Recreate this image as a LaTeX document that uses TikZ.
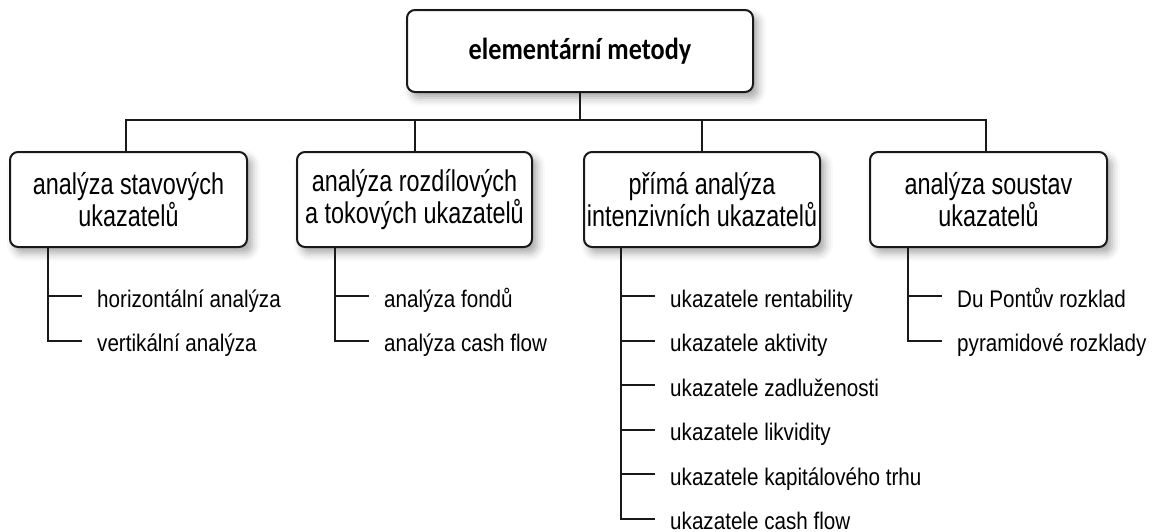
\documentclass[tikz,border=0pt]{standalone}
\usepackage{fontspec}
\usetikzlibrary{shadows.blur}
\newfontfamily\boxfont[FakeStretch=0.78]{Liberation Sans}
\newfontfamily\itemfont[FakeStretch=0.86]{Liberation Sans}
\newfontfamily\topfont[FakeStretch=0.86]{Carlito}
\begin{document}
\begin{tikzpicture}[x=1pt,y=-1pt,
  boxstyle/.style={draw=black!90, line width=2pt, rounded corners=8pt, fill=white,
    blur shadow={shadow xshift=5pt, shadow yshift=-6pt, shadow blur radius=8pt, shadow opacity=35},
    align=center, inner sep=0pt},
  subbox/.style={boxstyle, minimum height=95pt, font=\boxfont\fontsize{30}{31.5}\selectfont},
  itemnode/.style={anchor=west, inner xsep=15pt, inner ysep=0pt, text height=24pt, text depth=2pt,
    font=\itemfont\fontsize{24}{28}\selectfont},
  conn/.style={draw=black!90, line width=2pt}]
\useasboundingbox (0,0) rectangle (1152,531);

\node[boxstyle, minimum width=346pt, minimum height=82pt, font=\topfont\bfseries\fontsize{30.5}{34}\selectfont] (top) at (580,51) {elementární metody};

\node[subbox, minimum width=237pt] (b1) at (128.5,199.5) {analýza stavových\\ukazatelů};
\node[subbox, minimum width=235pt] (b2) at (414.5,199.5) {analýza rozdílových\\a tokových ukazatelů};
\node[subbox, minimum width=236pt] (b3) at (702,199.5) {přímá analýza\\intenzivních ukazatelů};
\node[subbox, minimum width=237pt] (b4) at (988.5,199.5) {analýza soustav\\ukazatelů};

\draw[conn] (top.south) -- ++(0,27) -| ([xshift=-2.5pt]b1.north);
\draw[conn] (top.south) -- ++(0,27) -| (b2.north);
\draw[conn] (top.south) -- ++(0,27) -| (b3.north);
\draw[conn] (top.south) -- ++(0,27) -| ([xshift=-2.5pt]b4.north);

% column 1
\node[itemnode] (i11) at (82,296) {horizontální analýza};
\node[itemnode] (i12) at (82,340.5) {vertikální analýza};
\draw[conn] ([xshift=-80.5pt]b1.south) |- (i12.west);
\draw[conn] ([xshift=-80.5pt]b1.south) |- (i11.west);

% column 2
\node[itemnode] (i21) at (369,296) {analýza fondů};
\node[itemnode] (i22) at (369,340.5) {analýza cash flow};
\draw[conn] ([xshift=-79.5pt]b2.south) |- (i22.west);
\draw[conn] ([xshift=-79.5pt]b2.south) |- (i21.west);

% column 3
\node[itemnode] (i31) at (655,296) {ukazatele rentability};
\node[itemnode] (i32) at (655,340.5) {ukazatele aktivity};
\node[itemnode] (i33) at (655,385) {ukazatele zadluženosti};
\node[itemnode] (i34) at (655,429.5) {ukazatele likvidity};
\node[itemnode] (i35) at (655,474) {ukazatele kapitálového trhu};
\node[itemnode] (i36) at (655,518.5) {ukazatele cash flow};
\draw[conn] ([xshift=-81pt]b3.south) |- (i36.west);
\foreach \n in {i31,i32,i33,i34,i35}{
  \draw[conn] ([xshift=-81pt]b3.south) |- (\n.west);
}

% column 4
\node[itemnode] (i41) at (942,296) {Du Pontův rozklad};
\node[itemnode] (i42) at (942,340.5) {pyramidové rozklady};
\draw[conn] ([xshift=-80.5pt]b4.south) |- (i42.west);
\draw[conn] ([xshift=-80.5pt]b4.south) |- (i41.west);
\end{tikzpicture}
\end{document}
